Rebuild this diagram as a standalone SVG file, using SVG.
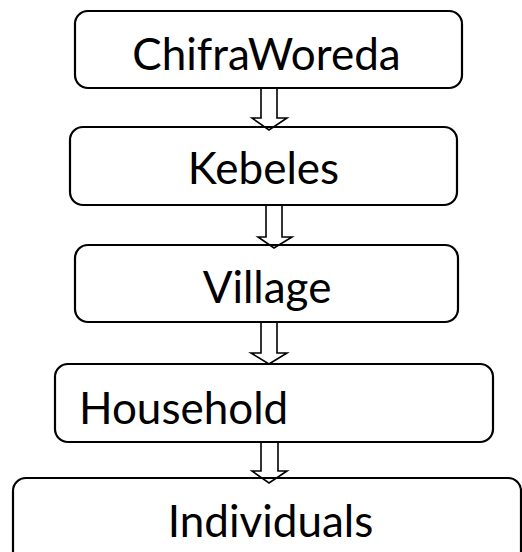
<svg xmlns="http://www.w3.org/2000/svg" width="522" height="552" viewBox="0 0 522 552">
<style>
.box{fill:#fff;stroke:#000;stroke-width:2.2}
.arr{fill:none;stroke:#000;stroke-width:1.6;stroke-linejoin:miter}
.t{font-family:Lato,"Liberation Sans",sans-serif;font-size:44px;fill:#000}
</style>
<rect width="522" height="552" fill="#fff"/>
<g id="n1"><rect class="box" x="75" y="11" width="387" height="77" rx="13"/><text class="t" x="266.5" y="70" text-anchor="middle">ChifraWoreda</text></g>
<g id="n2"><rect class="box" x="70" y="127" width="387" height="78" rx="13"/><text class="t" x="263.5" y="184" text-anchor="middle">Kebeles</text></g>
<g id="n3"><rect class="box" x="75" y="245" width="383" height="77" rx="13"/><text class="t" x="267" y="303" text-anchor="middle">Village</text></g>
<g id="n4"><rect class="box" x="55" y="364" width="438" height="78" rx="13"/><text class="t" x="79" y="424">Household</text></g>
<g id="n5"><rect class="box" x="13" y="478" width="508" height="90" rx="13"/><text class="t" x="270.5" y="537" text-anchor="middle">Individuals</text></g>
<g id="connectors">
<path class="arr" d="M261,88 V118 H252 L269,130 L287,118 H277 V88"/>
<path class="arr" d="M266,205 V237 H258 L274,248 L292,237 H282 V205"/>
<path class="arr" d="M261,322 V353 H251 L269,364 L287,353 H277 V322"/>
<path class="arr" d="M261,442 V471 H252 L269,483 L287,471 H278 V442"/>
</g>
</svg>
